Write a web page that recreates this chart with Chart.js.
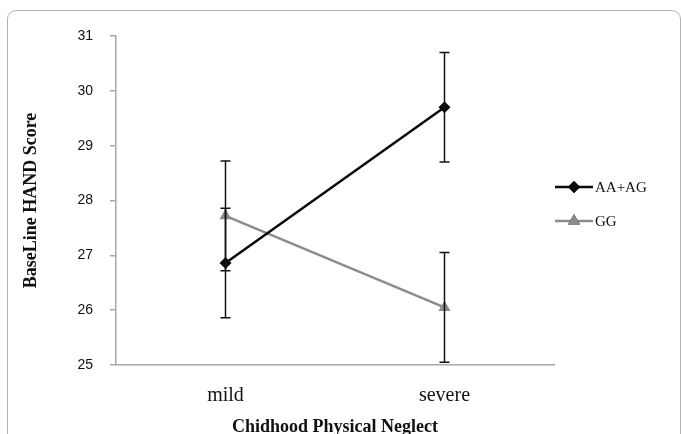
<!DOCTYPE html>
<html>
<head>
<meta charset="utf-8">
<script src="https://cdn.jsdelivr.net/npm/chart.js@4"></script>
<style>
  html, body { margin: 0; padding: 0; background: #fff; overflow: hidden; }
  #frame { position: absolute; left: 7px; top: 10px; width: 672px; height: 440px;
           border: 1px solid #b4b4b4; border-radius: 9px; }
  #wrap { position: absolute; left: 0; top: 0; width: 681px; height: 434px; }
</style>
</head>
<body>
<div id="frame"></div>
<div id="wrap"><canvas id="grafico" width="681" height="434"></canvas></div>
<script>
// dados
const categorias = ['mild', 'severe'];
const aaag = [26.86, 29.70];
const aaagErro = [1.0, 1.0];
const gg = [27.72, 26.05];
const ggErro = [1.0, 1.0];
const yTicks = [25, 26, 27, 28, 29, 30, 31];

const serif = '"Liberation Serif", "DejaVu Serif", serif';
const sans = '"Liberation Sans", Arial, sans-serif';

// barras de erro desenhadas com as escalas do grafico
const errorBars = {
    id: 'errorBars',
    afterDatasetsDraw(chart) {
        const ctx = chart.ctx;
        const x = chart.scales.x, y = chart.scales.y;
        ctx.save();
        ctx.strokeStyle = '#111';
        ctx.lineWidth = 1.5;
        chart.data.datasets.forEach(ds => {
            ds.data.forEach((v, i) => {
                const px = x.getPixelForValue(i);
                const top = y.getPixelForValue(v + ds.erro[i]);
                const bot = y.getPixelForValue(v - ds.erro[i]);
                ctx.beginPath();
                ctx.moveTo(px, top); ctx.lineTo(px, bot);
                ctx.moveTo(px - 5, top); ctx.lineTo(px + 5, top);
                ctx.moveTo(px - 5, bot); ctx.lineTo(px + 5, bot);
                ctx.stroke();
            });
        });
        ctx.restore();
    }
};

// legenda no estilo linha + marcador
const legendaLinha = {
    id: 'legendaLinha',
    afterDraw(chart) {
        const ctx = chart.ctx;
        const x0 = 555, x1 = 593;
        const ys = [187, 221];
        ctx.save();
        chart.data.datasets.forEach((ds, i) => {
            const yy = ys[i];
            ctx.strokeStyle = ds.borderColor;
            ctx.lineWidth = ds.borderWidth;
            ctx.beginPath(); ctx.moveTo(x0, yy); ctx.lineTo(x1, yy); ctx.stroke();
            Chart.helpers.drawPoint(ctx, {
                pointStyle: ds.pointStyle, radius: ds.pointRadius, borderWidth: 0, rotation: 0
            }, (x0 + x1) / 2, yy);
            ctx.fillStyle = ds.pointBackgroundColor;
            ctx.fill();
            ctx.fillStyle = '#111';
            ctx.font = '15px ' + serif;
            ctx.textBaseline = 'middle';
            ctx.textAlign = 'left';
            ctx.fillText(ds.label, x1 + 2, yy + 1);
        });
        ctx.restore();
    }
};

const ctx = document.getElementById('grafico').getContext('2d');
new Chart(ctx, {
    type: 'line',
    data: {
        labels: categorias,
        datasets: [
            {
                label: 'AA+AG',
                data: aaag,
                erro: aaagErro,
                borderColor: '#0a0a0a',
                borderWidth: 2.5,
                pointStyle: 'rectRot',
                pointRadius: 6,
                pointBackgroundColor: '#0a0a0a',
                pointBorderColor: '#0a0a0a',
                pointBorderWidth: 0
            },
            {
                label: 'GG',
                data: gg,
                erro: ggErro,
                borderColor: '#8c8c8c',
                borderWidth: 2.5,
                pointStyle: 'triangle',
                pointRadius: 7,
                pointBackgroundColor: '#8c8c8c',
                pointBorderColor: '#8c8c8c',
                pointBorderWidth: 0
            }
        ]
    },
    options: {
        responsive: false,
        animation: false,
        devicePixelRatio: 1,
        layout: { padding: { left: 0, top: 36, right: 127, bottom: 0 } },
        plugins: {
            legend: { display: false },
            tooltip: { enabled: false }
        },
        scales: {
            x: {
                offset: true,
                grid: { display: false },
                border: { display: true, color: '#a8a8a8', width: 1.5 },
                ticks: { color: '#111', padding: 11, font: { family: serif, size: 20 } },
                title: {
                    display: true, text: 'Chidhood Physical Neglect', color: '#111',
                    font: { family: serif, size: 18, weight: 'bold', lineHeight: 1 },
                    padding: { top: 0, bottom: -2 }
                },
                afterFit: s => { s.height = 69; }
            },
            y: {
                min: 25, max: 31,
                afterBuildTicks: s => { s.ticks = yTicks.map(v => ({ value: v })); },
                grid: { display: true, drawOnChartArea: false, drawTicks: true, tickLength: 6, color: '#a8a8a8', lineWidth: 1.5 },
                border: { display: true, color: '#a8a8a8', width: 1.5 },
                ticks: { color: '#111', padding: 17, font: { family: sans, size: 14 } },
                title: {
                    display: true, text: 'BaseLine HAND Score', color: '#111',
                    font: { family: serif, size: 18, weight: 'bold', lineHeight: 1 },
                    padding: { top: 22, bottom: 0 }
                },
                afterFit: s => { s.width = 116; }
            }
        }
    },
    plugins: [errorBars, legendaLinha]
});
</script>
</body>
</html>
